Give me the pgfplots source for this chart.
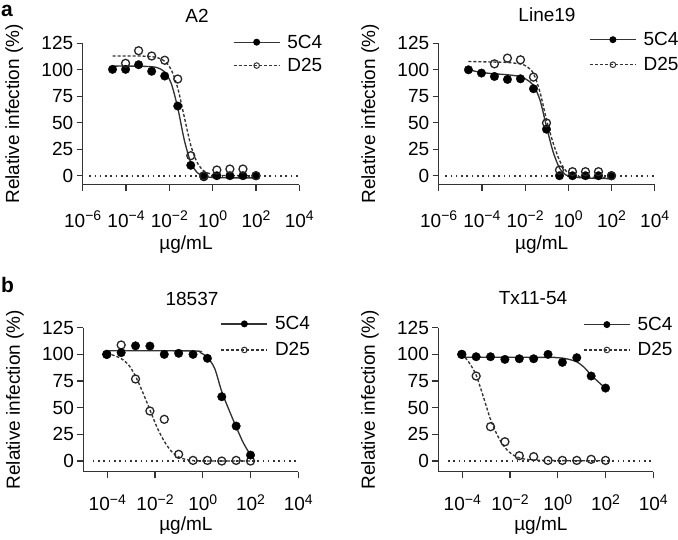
\documentclass[border=0pt]{standalone}
\usepackage{fontspec}
\setmainfont{Liberation Sans}
\usepackage{pgfplots}
\pgfplotsset{compat=1.18}
\newcommand\sups[1]{\raisebox{6.5pt}{\fontsize{14}{14}\selectfont #1}}
\definecolor{ln}{gray}{0.2}
\pgfplotsset{
  panel/.style={
    scale only axis,
    axis lines=left, axis line style={-, line width=1.2pt, color=ln},
    enlargelimits=false, clip=false,
    ymax=125, ytick={0,25,50,75,100,125},
    tick align=outside, major tick length=6pt,
    every tick/.style={line width=1.2pt, color=ln},
    xminorticks=false, yminorticks=false,
    font=\fontsize{19}{22}\selectfont,
    ticklabel style={font=\fontsize{19}{22}\selectfont},
    /pgf/number format/assume math mode=true,
    ylabel={Relative infection (\%)},
    xlabel={µg/mL},
    every axis y label/.style={at={(axis description cs:0,0.5)}, xshift=-63.5pt, rotate=90, anchor=base, inner sep=1pt},
    legend image code/.code={\draw[mark repeat=2,mark phase=2,##1] plot coordinates {(0pt,0pt) (23pt,0pt) (46pt,0pt)};},
    legend cell align=left,
  },
  toprow/.style={ymin=-8.3, xmin=1e-6, xmax=1e4,
    xtick={1e-6,1e-4,1e-2,1,1e2,1e4},
    xticklabels={10\sups{−6},10\sups{−4},10\sups{−2},10\sups{0},10\sups{2},10\sups{4}},
    xticklabel style={anchor=base, inner sep=1pt, yshift=-36.5pt},
    every axis x label/.style={at={(axis description cs:0.5,0)}, anchor=base, inner sep=1pt, xshift=-5pt, yshift=-65pt}},
  botrow/.style={ymin=-10, xmin=1e-5, xmax=1e4,
    xtick={1e-4,1e-2,1,1e2,1e4},
    xticklabels={10\sups{−4},10\sups{−2},10\sups{0},10\sups{2},10\sups{4}},
    xticklabel style={anchor=base, inner sep=1pt, yshift=-33pt},
    every axis x label/.style={at={(axis description cs:0.5,0)}, anchor=base, inner sep=1pt, xshift=-5pt, yshift=-59pt}},
  leg/.style n args={3}{legend style={draw=none, fill=none, inner sep=0pt, outer sep=0pt,
    row sep=#3, column sep=5pt, cells={anchor=west, inner sep=0pt},
    font=\fontsize{19}{22}\selectfont,
    at={(axis description cs:#1,1)}, anchor=north west, yshift=#2}},
  s5/.style={no marks, smooth, tension=0.5, line width=1.35pt, color=ln, solid, forget plot},
  sD/.style={no marks, smooth, tension=0.5, line width=1.35pt, color=ln, dash pattern=on 3pt off 2pt, forget plot},
  p5/.style={only marks, mark=*, mark size=4.3pt, mark options={fill=black, draw=black, line width=0.3pt}, forget plot},
  pD/.style={only marks, mark=o, mark size=4pt, mark options={line width=1.3pt, draw=black!85}, forget plot},
  zero/.style={no marks, line width=1.8pt, color=ln, dash pattern=on 1.6pt off 3.7pt, forget plot},
}
\newcommand\legs{%
  \addlegendimage{line width=1.3pt, color=ln, solid, mark=*, mark size=2.8pt, mark options={fill=black, draw=black}}
  \addlegendentry{5C4}
  \addlegendimage{line width=1.3pt, color=ln, dash pattern=on 3pt off 2pt, mark=o, mark size=2.8pt, mark options={solid, line width=1pt}}
  \addlegendentry{D25}
}
\begin{document}
\begin{tikzpicture}
\useasboundingbox (0pt,0pt) rectangle (678pt,-539pt);
\node[anchor=base west, inner sep=0pt, font=\fontsize{21}{24}\selectfont\bfseries] at (1pt,-16pt) {a};
\node[anchor=base west, inner sep=0pt, font=\fontsize{21}{24}\selectfont\bfseries] at (1pt,-292pt) {b};
\node[font=\fontsize{19}{22}\selectfont] at (197pt,-16pt) {A2};
\node[font=\fontsize{19}{22}\selectfont] at (547pt,-15pt) {Line19};
\node[font=\fontsize{19}{22}\selectfont] at (192pt,-299pt) {18537};
\node[font=\fontsize{19}{22}\selectfont] at (533pt,-298.5pt) {Tx11-54};

% ---------------- A2 ----------------
\begin{axis}[xmode=log, log basis x=10, panel, toprow, at={(82.7pt,-184.5pt)}, anchor=south west,
  width=216.6pt, height=141.2pt, leg={0.694}{10.5pt}{4.6pt}]
\addplot[zero] coordinates {(2e-6,0) (1e4,0)};
\addplot[s5] coordinates {(2.38419e-5,103.5) (9.53674e-5,103.5) (0.00038147,103.4) (0.00152588,102.9) (0.00305176,101.7) (0.00610352,97.9) (0.012207,87.1) (0.0244141,64.1) (0.0488281,33.9) (0.0976563,12.5) (0.195313,2.9) (0.390625,-0.4) (0.78125,-1.5) (1.5625,-1.85) (6.25,-2) (100,-2)};
\addplot[sD] coordinates {(2.38419e-5,113) (0.00038147,113) (0.00152588,112.4) (0.00305176,111.2) (0.00610352,108.1) (0.012207,100.1) (0.0244141,82.8) (0.0488281,55.6) (0.0976563,28.8) (0.195313,12.2) (0.390625,4.6) (0.78125,1.7) (1.5625,0.6) (3.125,0.2) (100,0)};
\addplot[p5] coordinates {(2.38419e-5,100.4) (9.53674e-5,100.4) (0.00038147,104.8) (0.00152588,98.6) (0.00610352,94.1) (0.0244141,65.8) (0.0976563,9.8) (0.390625,-1) (1.5625,0) (6.25,0) (25,0) (100,0)};
\addplot[pD] coordinates {(9.53674e-5,106.1) (0.00038147,118) (0.00152588,113) (0.00610352,109) (0.0244141,91.3) (0.0976563,18.9) (0.390625,0) (1.5625,5.4) (6.25,6.3) (25,6.3) (100,0)};
\legs
\end{axis}

% ---------------- Line19 ----------------
\begin{axis}[xmode=log, log basis x=10, panel, toprow, at={(438.7pt,-184.5pt)}, anchor=south west,
  width=216pt, height=141.2pt, leg={0.697}{13pt}{6.3pt}]
\addplot[zero] coordinates {(2e-6,0) (1e4,0)};
\addplot[s5] coordinates {(2.38419e-5,100) (9.53674e-5,97.5) (0.00038147,96.2) (0.00152588,95.3) (0.00610352,93.6) (0.012207,90.5) (0.0244141,85.3) (0.0488281,71.5) (0.0976563,46.5) (0.195313,23) (0.390625,7.3) (0.78125,0.7) (1.5625,-1.0) (3.125,-1.8) (12.5,-2.4) (100,-2.8)};
\addplot[sD] coordinates {(2.38419e-5,107.8) (0.00038147,107.3) (0.00152588,106.9) (0.00610352,105.5) (0.012207,103) (0.0244141,96.5) (0.0488281,79) (0.0976563,53) (0.195313,31.5) (0.390625,14.5) (0.78125,4.5) (1.5625,0.8) (3.125,-0.7) (12.5,-1.5) (100,-1.9)};
\addplot[p5] coordinates {(2.38419e-5,100) (9.53674e-5,96.9) (0.00038147,93.7) (0.00152588,90.9) (0.00610352,91.5) (0.0244141,82.1) (0.0976563,43.9) (0.390625,0) (1.5625,0) (6.25,0) (25,0) (100,0)};
\addplot[pD] coordinates {(0.00038147,105.6) (0.00152588,111) (0.00610352,109.4) (0.0244141,93.1) (0.0976563,49.8) (0.390625,5.3) (1.5625,3.8) (6.25,3.8) (25,3.8) (100,0)};
\legs
\end{axis}

% ---------------- 18537 ----------------
\begin{axis}[xmode=log, log basis x=10, panel, botrow, at={(83.4pt,-471.7pt)}, anchor=south west,
  width=214.9pt, height=144pt, leg={0.639}{13.2pt}{7.3pt}]
\addplot[zero] coordinates {(2.5e-5,0) (1e4,0)};
\addplot[s5] coordinates {(9.53674e-5,103.4) (0.390625,103.2) (0.78125,101.8) (1.5625,97) (3.125,87) (6.25,65) (12.5,48) (25,32) (50,17) (100,5.6)};
\addplot[sD] coordinates {(9.53674e-5,100.5) (0.000190735,99) (0.00038147,96) (0.000762939,90.5) (0.00152588,79.5) (0.00305176,64.5) (0.00610352,48) (0.012207,31.5) (0.0244141,18.5) (0.0488281,9) (0.0976563,3.8) (0.195313,1.5) (0.390625,0.4) (1.5625,0) (100,0)};
\addplot[pD] coordinates {(9.53674e-5,100) (0.00038147,108.8) (0.00152588,76.9) (0.00610352,46.9) (0.0244141,39.1) (0.0976563,6.3) (0.390625,0.6) (1.5625,0.6) (6.25,0) (25,0.6) (100,0)};
\addplot[p5] coordinates {(9.53674e-5,100) (0.00038147,101.6) (0.00152588,108) (0.00610352,107.8) (0.0244141,100) (0.0976563,101) (0.390625,100) (1.5625,96.3) (6.25,60.3) (25,32.8) (100,5.6)};
\legs
\end{axis}

% ---------------- Tx11-54 ----------------
\begin{axis}[xmode=log, log basis x=10, panel, botrow, at={(438.4pt,-471.7pt)}, anchor=south west,
  width=214.9pt, height=144pt, leg={0.674}{12.5pt}{6.6pt}]
\addplot[zero] coordinates {(2.5e-5,0) (1e4,0)};
\addplot[s5] coordinates {(9.53674e-5,97.3) (0.390625,97.2) (0.78125,97) (1.5625,96.5) (3.125,95.2) (6.25,93) (12.5,88) (25,80.5) (50,74.2) (100,68)};
\addplot[sD] coordinates {(9.53674e-5,100.5) (0.000190735,92.5) (0.00038147,80.5) (0.000762939,60.3) (0.00152588,39) (0.00305176,23.5) (0.00610352,12.7) (0.012207,6.3) (0.0244141,3) (0.0488281,1.6) (0.0976563,1) (0.390625,0.5) (6.25,0.3) (100,0.3)};
\addplot[pD] coordinates {(9.53674e-5,100) (0.00038147,79.7) (0.00152588,32.2) (0.00610352,18.1) (0.0244141,5) (0.0976563,4.1) (0.390625,0.6) (1.5625,0.6) (6.25,0.6) (25,1.6) (100,0.6)};
\addplot[p5] coordinates {(9.53674e-5,100) (0.00038147,97.8) (0.00152588,97.8) (0.00610352,95.3) (0.0244141,95.9) (0.0976563,95.9) (0.390625,100) (1.5625,92.5) (6.25,96.9) (25,79.7) (100,68.4)};
\legs
\end{axis}
\end{tikzpicture}
\end{document}
